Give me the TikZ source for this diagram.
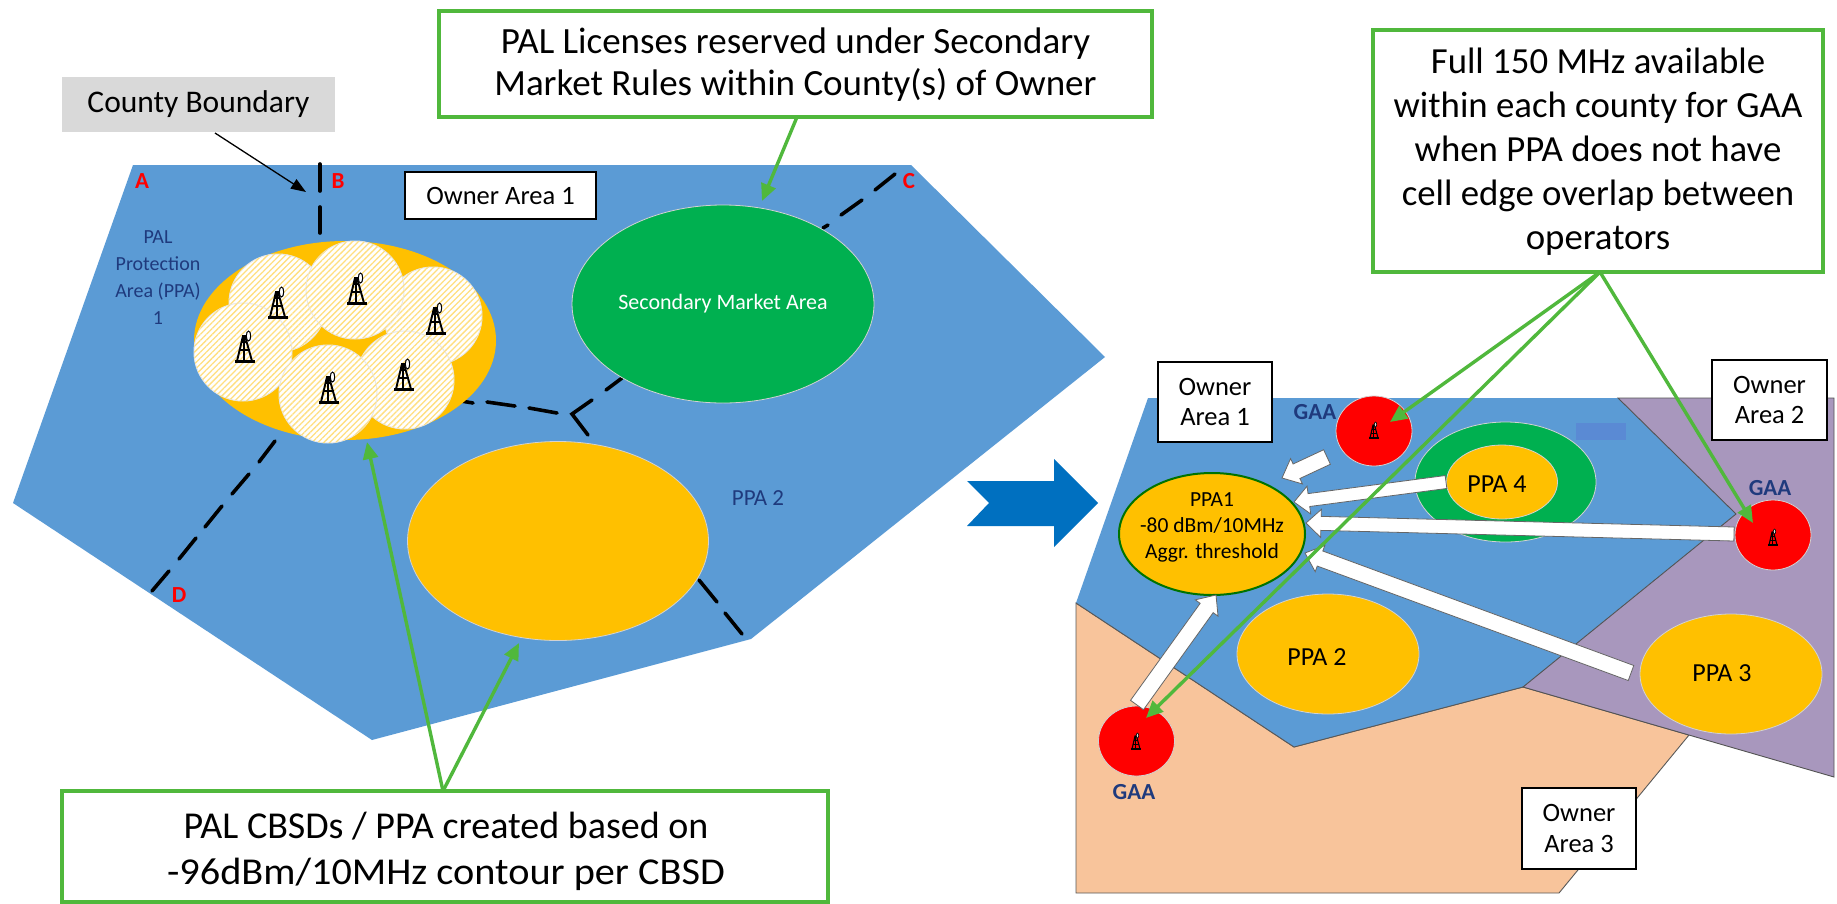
\documentclass[tikz,border=0pt]{standalone}
\usepackage{fontspec}
\usepackage{graphicx}
\setmainfont{Carlito}
\usetikzlibrary{shapes.geometric,arrows.meta,calc,patterns.meta}
\definecolor{bluearea}{HTML}{5B9BD5}
\definecolor{gold}{HTML}{FFC000}
\definecolor{mktgreen}{HTML}{00B050}
\definecolor{ptrgreen}{HTML}{50B83C}
\definecolor{purplearea}{HTML}{A897BD}
\definecolor{orangearea}{HTML}{F8C49B}
\definecolor{navytext}{HTML}{1F3A7D}
\definecolor{chev}{HTML}{0070C0}
\definecolor{patchblue}{HTML}{5A8AD4}
\newcommand{\fs}[1]{\fontsize{#1}{#1}\selectfont}
\tikzset{
  x=1pt,y=-1pt,
  area/.style={draw=#1,line width=0.9pt},
  ell/.style={ellipse,inner sep=0pt,draw=white!65!gray,line width=0.8pt},
  goldell/.style={ell,fill=gold},
  hatchcirc/.style={ellipse,inner sep=0pt,minimum width=98pt,minimum height=98pt,draw=white!82!gray,line width=1pt,
     fill=white,postaction={pattern={Lines[angle=45,distance=4.2pt,line width=1.3pt]},pattern color=gold!50!white}},
  redcirc/.style={ell,fill=red,minimum width=76pt,minimum height=70pt},
  ownerbox/.style={rectangle,draw=black,line width=1.4pt,fill=white,align=center,inner sep=0pt,font=\fs{26.5}},
  callout/.style={rectangle,draw=ptrgreen,line width=3.2pt,fill=white,align=center,inner sep=0pt,font=\fs{37}},
  ptr/.style={draw=ptrgreen,line width=3.4pt,-{Triangle[length=17pt,width=15pt]}},
  countyline/.style={line width=3.6pt,black,line cap=round},
  arealabel/.style={text=navytext,inner sep=0pt,align=center,font=\fs{20}},
  gaalabel/.style={text=navytext,inner sep=0pt,font=\bfseries\fs{23}},
  cornerlabel/.style={text=red,inner sep=0pt,font=\bfseries\fs{23}},
  plainlabel/.style={text=black,inner sep=0pt,align=center},
  fat/.style={draw=gray!80!black,line width=0.8pt,fill=white},
  pics/towerglyph/.style={code={
    \draw[line width=2.2pt,line cap=butt] (-10,14.5) -- (10,14.5);
    \draw[line width=1.9pt] (-8,14) -- (-2,-11) -- (0,-11) -- (7,14);
    \draw[line width=1.2pt] (-1,-11) -- (-1,14) (-6,3) -- (4.5,3) (-3.8,-5) -- (2,-5);
    \draw[line width=1pt,fill=white] (3.5,-11) ellipse [x radius=2.2,y radius=5];
  }},
  pics/tinytower/.style={code={
    \draw[line width=1.3pt] (-5,7) -- (5,7);
    \draw[line width=1.1pt] (-4,7) -- (-1,-6) -- (0.5,-6) -- (4,7);
    \draw[line width=0.7pt] (-0.3,-6) -- (-0.3,7) (-3,2) -- (3,2) (-2,-2) -- (1.5,-2);
    \draw[line width=0.6pt,fill=gray!30] (1.5,-6.5) ellipse [x radius=1.2,y radius=2.5];
  }},
}
% fat white arrow from coordinate #1 to coordinate #2; half width, head half width, head length
\newcommand{\fatarrow}[5]{%
  \coordinate (hb) at ($(#2)!#5pt!(#1)$);
  \draw[fat] ($(#1)!#3pt!90:(#2)$) -- ($(hb)!#3pt!90:(#2)$) -- ($(hb)!#4pt!90:(#2)$) -- (#2)
     -- ($(hb)!#4pt!-90:(#2)$) -- ($(hb)!#3pt!-90:(#2)$) -- ($(#1)!#3pt!-90:(#2)$) -- cycle;
}
\begin{document}
\begin{tikzpicture}
\useasboundingbox (0,0) rectangle (1837,903);
\fill[white] (0,0) rectangle (1837,903);

% ---------- left map
\fill[bluearea] (133,165) -- (911,165) -- (1105,357) -- (751,639) -- (372,740) -- (13,503) -- cycle;

\draw[countyline] (320,164) -- (320,191);
\draw[countyline] (320,207) -- (320,233);
\draw[countyline] (275,441) -- (259,462);
\draw[countyline] (249,474) -- (232,494);
\draw[countyline] (222,506) -- (205,527);
\draw[countyline] (196,538) -- (179,559);
\draw[countyline] (169,571) -- (152,591);
\draw[countyline] (895,174) -- (875,190);
\draw[countyline] (862,200) -- (841,215);
\draw[countyline] (828,225) -- (823,228);
\draw[countyline] (622,378) -- (606,390);
\draw[countyline] (592,400) -- (572,414) -- (588,435);
\draw[countyline] (557,413) -- (529,408);
\draw[countyline] (515,406) -- (487,402);
\draw[countyline] (473,403) -- (461,401);
\draw[countyline] (699,580) -- (717,602);
\draw[countyline] (725,613) -- (742,634);

\node[ell,draw=none,fill=gold,minimum width=302pt,minimum height=199pt] (ppaL) at (345,340.5) {};
\node[hatchcirc] (cbsdA) at (278,303) {};
\node[hatchcirc] (cbsdC) at (433,316) {};
\node[hatchcirc] (cbsdB) at (355,290) {};
\node[hatchcirc] (cbsdD) at (243,352) {};
\node[hatchcirc] (cbsdF) at (405,380) {};
\node[hatchcirc] (cbsdE) at (328,394) {};
\pic at (278,303) {towerglyph};
\pic at (357,289) {towerglyph};
\pic at (436,319) {towerglyph};
\pic at (245,347) {towerglyph};
\pic at (329,388) {towerglyph};
\pic at (404,375) {towerglyph};

\node[ell,fill=mktgreen,minimum width=302pt,minimum height=198pt,text=white,font=\fs{22}] (mkt) at (723,304) {Secondary Market Area};
\node[goldell,minimum width=301pt,minimum height=199pt] (ppa2L) at (558,541) {};

\node[cornerlabel] (lA) at (142,181) {A};
\node[cornerlabel] (lB) at (338,181) {B};
\node[cornerlabel] (lC) at (909,181) {C};
\node[cornerlabel] (lD) at (179,595) {D};
\node[arealabel] (palarea) at (158,278) {PAL\\[7pt]Protection\\[7pt]Area (PPA)\\[7pt]1};
\node[arealabel,font=\fs{23}] (ppa2lbl) at (758,498) {PPA 2};
\node[ownerbox,minimum width=191pt,minimum height=47pt] (ownerL) at (500.5,195.5) {Owner Area 1};

\node[rectangle,fill=black!15,inner sep=0pt,minimum width=273pt,minimum height=55pt,font=\fs{31.5}] (county) at (198.5,104.5) {County Boundary};
\coordinate (countyT) at (306,192);
\coordinate (countyF) at (215,133);
\draw[line width=1.3pt,black,-{Triangle[length=15pt,width=11pt]}] (countyF) -- (countyT);

% ---------- chevron
\fill[chev] (967,481) -- (1054,481) -- (1054,459) -- (1098,503) -- (1054,547) -- (1054,526) -- (967,526) -- (989,503) -- cycle;

% ---------- right map
\draw[area=gray!70!black,fill=orangearea] (1076,603) -- (1294,747) -- (1523,687) -- (1689,735) -- (1559,893) -- (1076,893) -- cycle;
\fill[bluearea] (1148,398) -- (1618,398) -- (1736,514) -- (1523,687) -- (1294,747) -- (1076,603) -- cycle;
\draw[gray!70!black,line width=0.9pt] (1076,603) -- (1294,747) -- (1523,687);
\draw[area=gray!65!black,fill=purplearea] (1618,398) -- (1834,398) -- (1834,777) -- (1523,687) -- (1736,514) -- cycle;
\fill[patchblue] (1576,423) rectangle (1626,440);

\node[ell,fill=mktgreen,minimum width=181pt,minimum height=120pt] (mktR) at (1505.5,482) {};
\node[goldell,minimum width=111pt,minimum height=74pt] (ppa4) at (1502,482) {};
\node[plainlabel,font=\fs{26}] (ppa4t) at (1497,484) {PPA 4};
\node[goldell,minimum width=182pt,minimum height=120pt] (ppa2R) at (1328,654) {};
\node[plainlabel,font=\fs{26}] (ppa2t) at (1317,657) {PPA 2};
\node[goldell,minimum width=182pt,minimum height=120pt] (ppa3) at (1731,674) {};
\node[plainlabel,font=\fs{26}] (ppa3t) at (1722,673) {PPA 3};
\node[ell,fill=gold,draw=green!45!black,line width=2pt,minimum width=186pt,minimum height=122pt] (ppa1) at (1212,534) {};
\node[plainlabel,font=\fs{21.5}] (ppa1t) at (1212,527) {PPA1\\[4.5pt]-80 dBm/10MHz\\[4.5pt]Aggr. threshold};

\node[redcirc] (gaa1) at (1374,431) {};
\node[redcirc] (gaa2) at (1773,535) {};
\node[redcirc] (gaa3) at (1136.5,741) {};
\pic at (1374,431) {tinytower};
\pic at (1773,538) {tinytower};
\pic at (1136,742) {tinytower};
\node[gaalabel] (g1) at (1315,412) {GAA};
\node[gaalabel] (g2) at (1770,488) {GAA};
\node[gaalabel] (g3) at (1134,792) {GAA};

\coordinate (w1a) at (1327,457); \coordinate (w1b) at (1282,478);
\coordinate (w2a) at (1446,482); \coordinate (w2b) at (1294,502);
\coordinate (w3a) at (1734,534); \coordinate (w3b) at (1306,523);
\coordinate (w4a) at (1631,673); \coordinate (w4b) at (1305,553);
\coordinate (w5a) at (1137,705); \coordinate (w5b) at (1216,595);
\fatarrow{w1a}{w1b}{8}{14}{16}
\fatarrow{w2a}{w2b}{6.5}{14}{15}
\fatarrow{w3a}{w3b}{7}{14}{15}
\fatarrow{w4a}{w4b}{8}{14}{16}
\fatarrow{w5a}{w5b}{8}{14}{16}

\node[ownerbox,minimum width=114pt,minimum height=80pt] (owner1) at (1215,402) {Owner\\[4pt]Area 1};
\node[ownerbox,minimum width=115pt,minimum height=80pt] (owner2) at (1769.5,400) {Owner\\[4pt]Area 2};
\node[ownerbox,minimum width=114pt,minimum height=81pt] (owner3) at (1579,828.5) {Owner\\[4pt]Area 3};

% ---------- callouts
\node[callout,minimum width=713pt,minimum height=106pt] (topbox) at (795.5,64) {};
\node[plainlabel,font=\fs{37}] (toptext) at (795.5,65) {PAL Licenses reserved under Secondary\\[5pt]Market Rules within County(s) of Owner};
\node[callout,minimum width=766pt,minimum height=111pt] (botbox) at (445,846.5) {};
\node[plainlabel,font=\fs{38}] (bottext) at (446,851) {PAL CBSDs / PPA created based on\\[8pt]\scalebox{1.06}[1]{-96dBm/10MHz contour per CBSD}};
\node[callout,minimum width=450pt,minimum height=242pt] (rbox) at (1598,151) {};
\node[plainlabel,font=\fs{36.8}] (rtext) at (1598,152) {Full 150 MHz available\\[7.2pt]within each county for GAA\\[7.2pt]when PPA does not have\\[7.2pt]cell edge overlap between\\[7.2pt]operators};

\coordinate (p1) at (797,117);  \coordinate (p1e) at (762,201);
\coordinate (p2) at (443,791);  \coordinate (p2e) at (367,442); \coordinate (p3e) at (519,643);
\coordinate (p4) at (1600,272); \coordinate (p4e) at (1390,422); \coordinate (p5e) at (1146,718); \coordinate (p6e) at (1753,523);
\draw[ptr] (p1) -- (p1e);
\draw[ptr] (p2) -- (p2e);
\draw[ptr] (p2) -- (p3e);
\draw[ptr] (p4) -- (p4e);
\draw[ptr] (p4) -- (p5e);
\draw[ptr] (p4) -- (p6e);
\end{tikzpicture}
\end{document}
